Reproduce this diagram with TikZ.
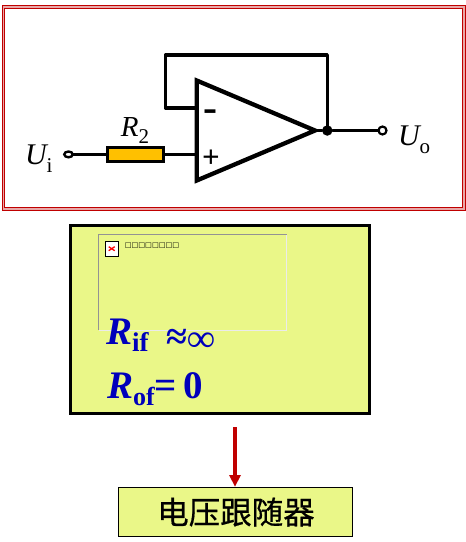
\documentclass[tikz,border=0pt]{standalone}
\usetikzlibrary{shapes.geometric}
\usepackage{fontspec}
\setmainfont{Liberation Serif}
\newfontfamily\cjkf{Noto Sans CJK SC}[FakeBold=0.5]
\newfontfamily\symf{DejaVu Sans}
\definecolor{framered}{HTML}{C00000}
\definecolor{framepink}{HTML}{E8A8A8}
\definecolor{paleyellow}{HTML}{EAF788}
\definecolor{resorange}{HTML}{FFC000}
\definecolor{deepblue}{HTML}{0000BB}
\newcommand{\px}[1]{\fontsize{#1}{#1}\selectfont}
\tikzset{
  every node/.style={outer sep=0pt},
  wire/.style={draw=black,line width=3.2pt,line join=round,line cap=round},
  terminal/.style={circle,draw=black,fill=white,line width=2.2pt,minimum size=8pt,inner sep=0pt},
  junction/.style={circle,fill=black,minimum size=10.5pt,inner sep=0pt},
  lbl/.style={inner sep=0pt,anchor=base west,text=black},
  formula/.style={inner sep=0pt,anchor=base west,text=deepblue,font=\bfseries},
  sect/.style={draw=black,fill=paleyellow}
}
\begin{document}
\begin{tikzpicture}[x=1pt,y=-1pt]
\useasboundingbox (0,0) rectangle (466,542);
% outer frame
\node[draw=framered,fill=framepink,line width=1.1pt,minimum width=463pt,minimum height=205.5pt,inner sep=0pt,anchor=north west] (frameout) at (2.2,5.3) {};
\node[draw=framered,fill=white,line width=1.1pt,minimum width=458.5pt,minimum height=199pt,inner sep=0pt,anchor=north west] (framein) at (4.4,8.3) {};
% op-amp
\coordinate (tl) at (196.7,80.5);
\coordinate (bl) at (196.7,180.5);
\coordinate (tip) at (315,130.5);
\coordinate (minusin) at (196.7,108);
\coordinate (plusin) at (196.7,154.4);
\coordinate (fbbl) at (165.5,108);
\coordinate (fbtl) at (165.5,55);
\coordinate (fbtr) at (327.3,55);
\node[junction] (out) at (327.3,130.5) {};
\node[terminal] (uo) at (382.5,130.5) {};
\node[ellipse,draw=black,fill=white,line width=2.4pt,minimum width=8.5pt,minimum height=5.8pt,inner sep=0pt] (ui) at (68.5,154.4) {};
\node[draw=black,fill=resorange,line width=3pt,minimum width=56.3pt,minimum height=13.7pt,inner sep=0pt] (r2) at (135.7,154.4) {};
\draw[wire] (minusin) -- (fbbl) -- (fbtl) -- (fbtr) -- (out.center);
\draw[wire] (tip) -- (out);
\draw[wire] (out) -- (uo);
\draw[wire] (ui) -- (r2);
\draw[wire] (r2) -- (plusin);
\draw[draw=black,fill=white,line width=4.3pt,miter limit=10,line join=miter] (tl) -- (tip) -- (bl) -- cycle;
\node[lbl,font=\bfseries\px{42}] (minus) at (203,121) {-};
\node[lbl,font=\bfseries\px{31}] (plus) at (202,167.5) {+};
\node[lbl] (lr) at (121,136) {\px{29}\itshape R\px{21}\raisebox{-7pt}{\upshape 2}};
\node[lbl] (lui) at (25,164) {\px{30}\itshape U\px{21}\raisebox{-8pt}{\upshape i}};
\node[lbl] (luo) at (398,145) {\px{30}\itshape U\px{21}\raisebox{-8pt}{\upshape o}};
% formula panel
\node[sect,line width=3pt,minimum width=299pt,minimum height=188pt,inner sep=0pt,anchor=north west] (panel) at (70.5,225.5) {};
\coordinate (ph1) at (98.5,330);
\coordinate (ph2) at (98.5,234.5);
\coordinate (ph3) at (286.5,234.5);
\coordinate (ph4) at (286.5,330);
\draw[draw=gray!85,line width=0.9pt] (ph1) -- (ph2) -- (ph3);
\draw[draw=white!92!black,line width=0.9pt] (ph3) -- (ph4) -- (ph1);
\node[draw=black,fill=white,line width=0.5pt,minimum width=13pt,minimum height=15pt,inner sep=0pt,anchor=north west] (icon) at (105.2,241.2) {};
\draw[black,line width=1pt] (icon.north east) -- (icon.south east) -- (icon.south west);
\draw[red,line width=1.3pt] ([shift={(-3,-2)}]icon.center) -- ([shift={(3,2)}]icon.center);
\draw[red,line width=1.3pt] ([shift={(-3,2)}]icon.center) -- ([shift={(3,-2)}]icon.center);
\node[lbl,font=\symf\bfseries\px{7.2}] (missing) at (124.8,247.5) {□□□□□□□□};
\node[formula] (rif) at (106,344) {\px{39}\itshape R\px{27}\raisebox{-7.5pt}{\upshape if}};
\node[formula,font=\bfseries\px{38}] (approx) at (166.5,349) {≈};
\node[formula,font=\bfseries\px{39}] (inf) at (187.5,351) {∞};
\node[formula] (rof) at (107,398) {\px{39}\itshape R\px{26}\raisebox{-7.5pt}{\upshape of}\px{39}\upshape =\kern7pt 0};
% result
\node[sect,line width=1pt,minimum width=233.5pt,minimum height=48.5pt,inner sep=0pt,anchor=north west] (result) at (118.5,487.5) {};
\node[inner sep=0pt,font=\cjkf\px{31.5}] (resulttext) at (236,512) {电压跟随器};
\coordinate (arrstart) at (235,427);
\draw[draw=framered,line width=3.6pt] (arrstart) -- (235,476);
\fill[framered] (229,475) -- (241,475) -- (235,486.5) -- cycle;
\end{tikzpicture}
\end{document}
